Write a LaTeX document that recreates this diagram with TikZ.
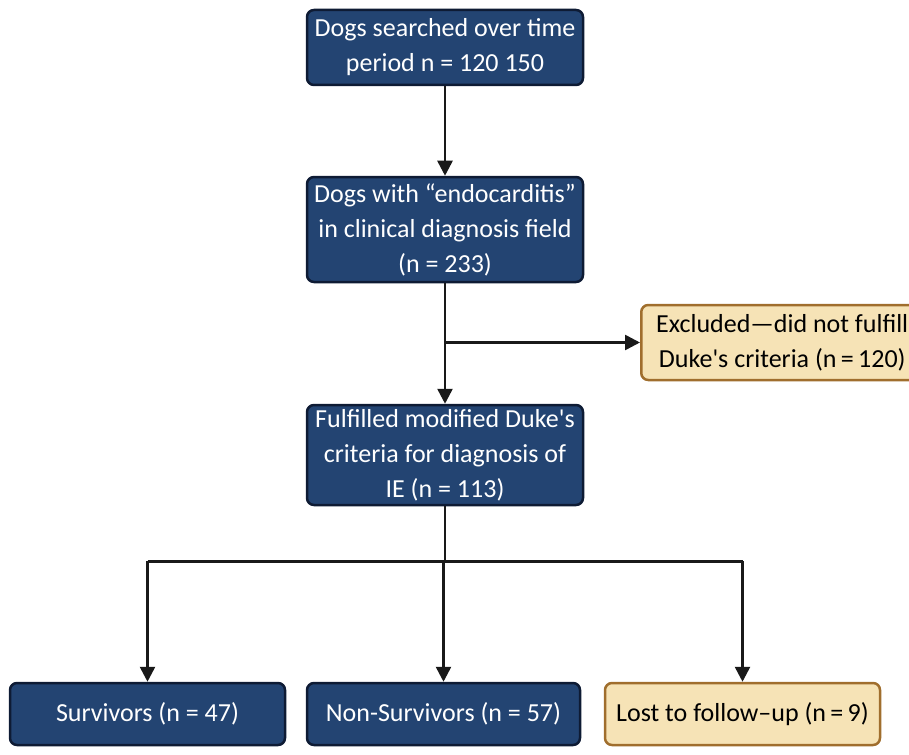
\documentclass[tikz,border=0pt]{standalone}
\usepackage{fontspec}
\setmainfont{Carlito}[Ligatures=TeXOff]
\usepackage{tikz}
\usetikzlibrary{arrows.meta, positioning, calc}
\definecolor{navy}{RGB}{35,68,114}
\definecolor{navyline}{RGB}{14,27,52}
\definecolor{tan}{RGB}{246,227,182}
\definecolor{tanline}{RGB}{160,110,45}
\begin{document}
\begin{tikzpicture}[x=1pt,y=-1pt,
    box/.style={draw=navyline, fill=navy, text=white, line width=2.5pt, rounded corners=7pt,
        align=center, inner sep=0pt, font=\fontsize{26}{35}\selectfont},
    tanbox/.style={box, draw=tanline, fill=tan, text=black},
    link/.style={line width=2.6pt, draw=black!90},
    arr/.style={link, -{Triangle[length=15pt,width=15pt]}}]
    \useasboundingbox (0,0) rectangle (909,754);
    \clip (0,0) rectangle (909,754);
    \node[box, minimum width=276pt, minimum height=75pt] (search) at (445,47.5)
        {Dogs searched over time\\ period n = 120 150};
    \node[box, minimum width=276pt, minimum height=105pt] (endo) at (445,229.5)
        {Dogs with “endocarditis”\\ in clinical diagnosis field\\ (n = 233)};
    \node[box, minimum width=276pt, minimum height=100pt] (duke) at (445,455)
        {Fulfilled modified Duke's\\ criteria for diagnosis of\\ IE (n = 113)};
    \node[tanbox, anchor=west, minimum width=282pt, minimum height=75pt] (excl) at (640,342.5)
        {Excluded—did not fulfill\\ Duke's criteria (n\,=\,120)};
    \node[box, minimum width=275pt, minimum height=62pt] (surv) at (147.5,714) {Survivors (n = 47)};
    \node[box, minimum width=273pt, minimum height=62pt] (nonsurv) at (443.5,714) {Non-Survivors (n = 57)};
    \node[tanbox, minimum width=275pt, minimum height=62pt] (lost) at (742.5,714) {Lost to follow–up (n\,=\,9)};
    % connectors
    \coordinate (split) at (endo.south |- excl.west);
    \coordinate (fork) at ($(duke.south)+(0,55)$);
    \draw[arr] (search) -- (endo);
    \draw[arr] (endo) -- (duke);
    \draw[arr] (split) -- (excl.west);
    \draw[link] (duke) -- (fork);
    \draw[link] (fork -| surv) -- (fork -| lost);
    \foreach \n in {surv, nonsurv, lost}
        \draw[arr] (fork -| \n) -- (\n);
\end{tikzpicture}
\end{document}
